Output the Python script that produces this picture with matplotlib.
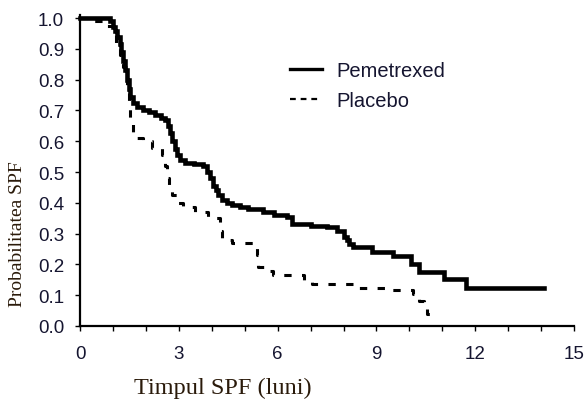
import numpy as np
import matplotlib
matplotlib.use("Agg")
import matplotlib.pyplot as plt

# curba Kaplan-Meier (luni, probabilitate)
t_pem = [0, 0.9, 1.0, 1.06, 1.12, 1.2, 1.25, 1.3, 1.36, 1.42, 1.48, 1.52, 1.6, 1.73,
         1.9, 2.1, 2.27, 2.45, 2.58, 2.66, 2.73, 2.8, 2.88, 2.95, 3.03, 3.2, 3.45,
         3.73, 3.85, 3.95, 4.03, 4.12, 4.2, 4.3, 4.45, 4.6, 4.85, 5.1, 5.55, 5.9,
         6.27, 6.45, 7.0, 7.5, 7.8, 8.0, 8.1, 8.18, 8.28, 8.88, 9.5, 10.06, 10.3,
         11.06, 11.73, 14.1]
s_pem = [1.0, 0.99, 0.97, 0.958, 0.94, 0.916, 0.89, 0.86, 0.83, 0.80, 0.77, 0.745,
         0.725, 0.71, 0.70, 0.695, 0.684, 0.675, 0.668, 0.65, 0.626, 0.60, 0.575,
         0.555, 0.54, 0.53, 0.525, 0.52, 0.50, 0.48, 0.455, 0.44, 0.425, 0.41, 0.40,
         0.393, 0.387, 0.38, 0.37, 0.36, 0.355, 0.33, 0.325, 0.32, 0.31, 0.29, 0.28,
         0.265, 0.255, 0.24, 0.226, 0.2, 0.175, 0.152, 0.122, 0.122]

t_pla = [0, 0.36, 0.76, 1.0, 1.1, 1.2, 1.3, 1.42, 1.48, 1.52, 1.6, 1.9, 2.2, 2.5,
         2.57, 2.63, 2.7, 2.8, 2.97, 3.12, 3.5, 3.88, 4.24, 4.3, 4.6, 5.36, 5.4,
         5.67, 5.85, 6.8, 7.05, 8.4, 9.45, 10.1, 10.3, 10.45, 10.55, 10.8]
s_pla = [1.0, 0.99, 0.975, 0.955, 0.92, 0.88, 0.84, 0.78, 0.71, 0.66, 0.61, 0.60,
         0.577, 0.555, 0.52, 0.48, 0.45, 0.425, 0.40, 0.387, 0.37, 0.35, 0.31, 0.28,
         0.268, 0.232, 0.19, 0.18, 0.167, 0.145, 0.135, 0.122, 0.116, 0.103, 0.08,
         0.068, 0.04, 0.04]

x_major = [0, 3, 6, 9, 12, 15]
y_major = np.round(np.arange(0, 1.01, 0.1), 1)

fig = plt.figure(figsize=(5.84, 4.02), dpi=100)
ax = fig.add_axes([0.137, 0.1866, 0.846, 0.766])

ax.step(t_pem, s_pem, where='post', color='black', lw=3.3, label='Pemetrexed',
        clip_on=False, solid_joinstyle='miter')
ax.step(t_pla, s_pla, where='post', color='black', lw=2.2, label='Placebo',
        linestyle=(0, (2.4, 3.4)), clip_on=False)

ax.set_xlim(0, 15)
ax.set_ylim(0, 1.0)
ax.spines['top'].set_visible(False)
ax.spines['right'].set_visible(False)
ax.spines['left'].set_linewidth(1.6)
ax.spines['bottom'].set_linewidth(1.6)
ax.spines['left'].set_bounds(0, 1.01)

ax.set_xticks(x_major)
ax.set_xticks(range(0, 16), minor=True)
ax.set_yticks(y_major)
ax.set_yticklabels([f'{v:.1f}' for v in y_major])
ax.tick_params(axis='both', which='both', direction='out', length=3.5, width=1.0,
               labelsize=13.5, labelcolor='#151530')
ax.tick_params(axis='x', pad=10)
ax.tick_params(axis='y', pad=8)
for lab in ax.get_xticklabels() + ax.get_yticklabels():
    lab.set_family('Liberation Sans')

fig.text(0.382, 0.008, 'Timpul SPF (luni)', family='Liberation Serif', fontsize=17.5,
         ha='center', va='bottom', color='#2a1a0a')
fig.text(0.03, 0.418, 'Probabilitatea SPF', family='Liberation Serif', fontsize=14,
         rotation=90, ha='center', va='center', color='#2a1a0a')

leg = ax.legend(loc='upper left', bbox_to_anchor=(0.465, 0.89), bbox_transform=fig.transFigure,
                frameon=False, handlelength=1.6, handletextpad=0.7, labelspacing=0.55,
                prop={'family': 'Liberation Sans', 'size': 14.5})
leg_lines = leg.get_lines()
leg_lines[0].set_linewidth(2.4)
leg_lines[1].set_linewidth(1.6)
leg_lines[1].set_linestyle((0, (2.6, 2.2)))
for txt in leg.get_texts():
    txt.set_color('#151530')

fig.savefig('out.png', dpi=100)
